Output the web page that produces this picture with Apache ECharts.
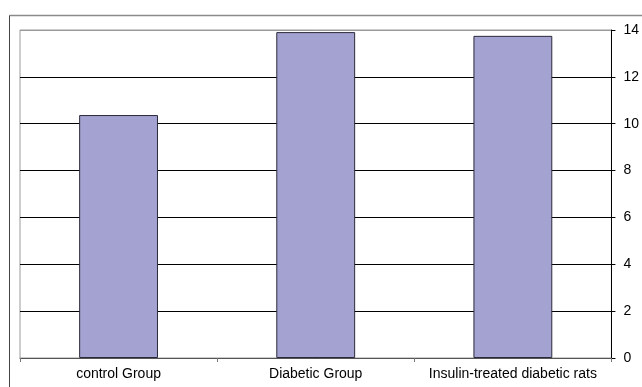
<!DOCTYPE html>
<html>
<head>
<meta charset="utf-8">
<script src="https://cdn.jsdelivr.net/npm/echarts@6/dist/echarts.min.js"></script>
<style>
  html, body { margin: 0; padding: 0; background: #fff; }
  #chart { width: 642px; height: 387px; }
</style>
</head>
<body>
<div id="chart"></div>
<script>
// Group names along the bottom axis
const categories = ['control Group', 'Diabetic Group', 'Insulin-treated diabetic rats'];
// Mean value per group
const values = [10.37, 13.91, 13.75];
// Right-hand value axis range
const axisMin = 0;
const axisMax = 14;
const axisStep = 2;

const chart = echarts.init(document.getElementById('chart'), null, { renderer: 'canvas' });

const font = 'Liberation Sans, Arial, sans-serif';

chart.setOption({
  animation: false,
  backgroundColor: '#ffffff',
  graphic: [
    {
      // frame around the whole chart area (runs off the right/bottom edges)
      type: 'polyline',
      shape: { points: [[9.5, 400], [9.5, 15.5], [660, 15.5]] },
      style: { fill: null, stroke: '#444', lineWidth: 1 },
      z: 10
    },
    {
      type: 'line',
      shape: { x1: 9.5, y1: 15.5, x2: 660, y2: 15.5 },
      style: { stroke: '#8a8a8a', lineWidth: 1.5 },
      z: 11
    }
  ],
  grid: {
    left: 20,
    right: 642 - 617,
    top: 30,
    bottom: 387 - 358,
    show: true,
    borderColor: '#9a9a9a',
    borderWidth: 1
  },
  xAxis: {
    type: 'category',
    data: categories,
    boundaryGap: true,
    axisLine: { show: true, lineStyle: { color: '#555', width: 1 } },
    axisTick: { show: true, alignWithLabel: false, length: 4, lineStyle: { color: '#777' } },
    axisLabel: {
      color: '#000',
      fontFamily: font,
      fontSize: 14,
      margin: 9,
      interval: 0,
      hideOverlap: false
    }
  },
  yAxis: {
    type: 'value',
    position: 'right',
    min: axisMin,
    max: axisMax,
    interval: axisStep,
    axisLine: { show: true, lineStyle: { color: '#000', width: 1 } },
    axisTick: { show: true, inside: false, length: 4, lineStyle: { color: '#000' } },
    axisLabel: {
      color: '#000',
      fontFamily: font,
      fontSize: 14,
      margin: 12
    },
    splitLine: {
      show: true,
      lineStyle: {
        color: ['#000', '#000', '#000', '#000', '#000', '#000', '#000', '#9a9a9a'],
        width: 1
      }
    }
  },
  series: [
    {
      type: 'bar',
      data: values,
      barWidth: '40%',
      itemStyle: {
        color: '#a3a2d1',
        borderColor: '#2a2a3a',
        borderWidth: 1
      }
    }
  ]
});
</script>
</body>
</html>
